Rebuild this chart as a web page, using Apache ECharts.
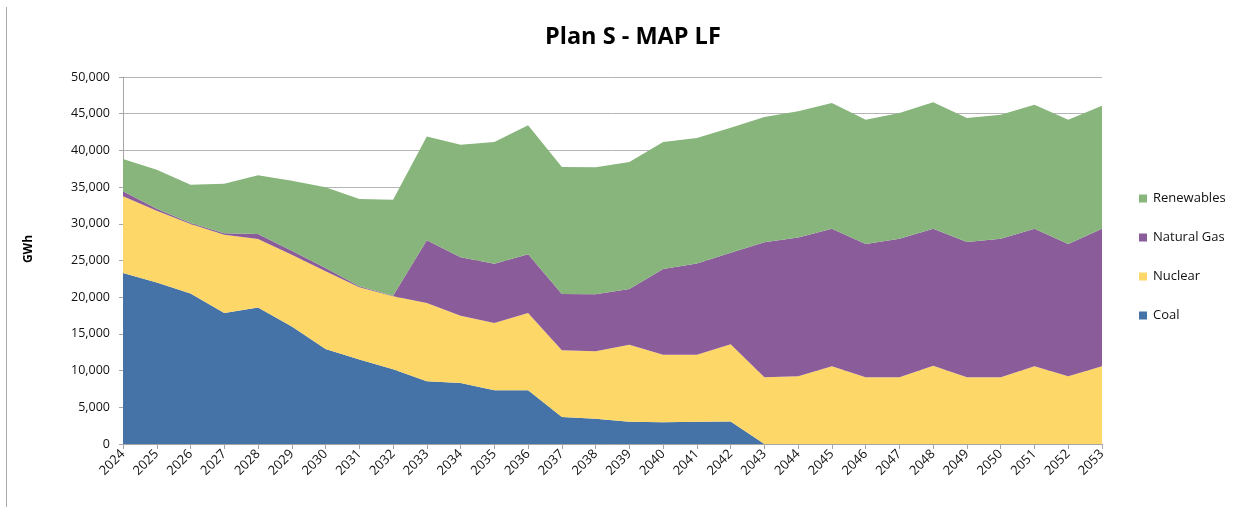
<!DOCTYPE html>
<html>
<head>
<meta charset="utf-8">
<title>Plan S - MAP LF</title>
<script src="https://cdn.jsdelivr.net/npm/echarts@6/dist/echarts.min.js"></script>
<style>
  html, body { margin: 0; padding: 0; background: #ffffff; }
  #chart { width: 1251px; height: 507px; }
</style>
</head>
<body>
<div id="chart"></div>
<script>
// Annual generation by source, GWh
const years = ['2024','2025','2026','2027','2028','2029','2030','2031','2032','2033',
               '2034','2035','2036','2037','2038','2039','2040','2041','2042','2043',
               '2044','2045','2046','2047','2048','2049','2050','2051','2052','2053'];

const coal = [23300, 22000, 20500, 17850, 18600, 16000, 12950, 11500, 10200, 8540,
              8310, 7310, 7310, 3680, 3450, 3040, 2950, 3040, 3060, 0,
              0, 0, 0, 0, 0, 0, 0, 0, 0, 0];

const nuclear = [10440, 9790, 9470, 10670, 9330, 9790, 10570, 9840, 9920, 10670,
                 9170, 9170, 10540, 9080, 9170, 10490, 9220, 9130, 10520, 9080,
                 9220, 10580, 9080, 9080, 10670, 9080, 9080, 10580, 9220, 10580];

const naturalGas = [680, 270, 140, 180, 680, 550, 460, 140, 90, 8540,
                    7950, 8090, 7990, 7670, 7770, 7590, 11670, 12430, 12480, 18390,
                    18930, 18760, 18170, 18890, 18670, 18440, 18890, 18760, 18030, 18760];

const renewables = [4410, 5310, 5220, 6770, 7990, 9530, 10990, 11900, 13080, 14160,
                    15350, 16570, 17570, 17310, 17300, 17300, 17300, 17100, 17040, 17080,
                    17170, 17110, 16930, 17120, 17210, 16890, 16900, 16890, 16930, 16750];

const yTicks = { min: 0, max: 50000, step: 5000 };

const FONT = '"Open Sans", "Liberation Sans", sans-serif';

function area(name, data, color) {
  return {
    name: name,
    type: 'line',
    stack: 'total',
    data: data,
    symbol: 'none',
    showSymbol: false,
    lineStyle: { width: 0 },
    areaStyle: { color: color, opacity: 1 },
    itemStyle: { color: color },
    emphasis: { disabled: true }
  };
}

const chart = echarts.init(document.getElementById('chart'), null, { renderer: 'canvas' });

chart.setOption({
  animation: false,
  backgroundColor: '#ffffff',
  title: {
    text: 'Plan S - MAP LF',
    left: 540,
    top: 20,
    textStyle: { fontFamily: FONT, fontSize: 23.5, fontWeight: 'bold', color: '#000000' }
  },
  legend: {
    orient: 'vertical',
    left: 1134,
    top: 187,
    itemWidth: 8,
    itemHeight: 8,
    itemGap: 26,
    icon: 'rect',
    data: ['Renewables', 'Natural Gas', 'Nuclear', 'Coal'],
    textStyle: { fontFamily: FONT, fontSize: 13, color: '#111111', padding: [0, 0, 0, 1] }
  },
  graphic: [{
    type: 'line',
    shape: { x1: 6.5, y1: 7, x2: 6.5, y2: 507 },
    style: { stroke: '#aaaaaa', lineWidth: 1 }
  }, {
    type: 'text',
    x: 29,
    y: 249,
    rotation: Math.PI / 2,
    style: {
      text: 'GWh',
      fontFamily: FONT,
      fontSize: 12,
      fontWeight: 'bold',
      fill: '#000000',
      align: 'center',
      verticalAlign: 'middle'
    }
  }],
  grid: { left: 123, right: 149, top: 77, bottom: 63, containLabel: false },
  xAxis: {
    type: 'category',
    data: years,
    boundaryGap: false,
    axisLine: { show: true, lineStyle: { color: '#a6a6a6', width: 1 } },
    axisTick: { show: true, length: 5, interval: 0, lineStyle: { color: '#a6a6a6' } },
    axisLabel: {
      interval: 0,
      rotate: 45,
      margin: 8,
      fontFamily: FONT,
      fontSize: 13,
      color: '#111111'
    },
    splitLine: { show: false }
  },
  yAxis: {
    type: 'value',
    min: yTicks.min,
    max: yTicks.max,
    interval: yTicks.step,
    axisLine: { show: true, lineStyle: { color: '#a6a6a6', width: 1 } },
    axisTick: { show: true, length: 4, lineStyle: { color: '#a6a6a6' } },
    axisLabel: {
      margin: 13,
      fontFamily: FONT,
      fontSize: 12.5,
      color: '#111111',
      formatter: v => v.toLocaleString('en-US')
    },
    splitLine: { show: true, lineStyle: { color: '#b5b5b5', width: 1 } }
  },
  series: [
    area('Coal', coal, '#4573a8'),
    area('Nuclear', nuclear, '#fdd767'),
    area('Natural Gas', naturalGas, '#8b5c9a'),
    area('Renewables', renewables, '#87b57b')
  ]
});
</script>
</body>
</html>
